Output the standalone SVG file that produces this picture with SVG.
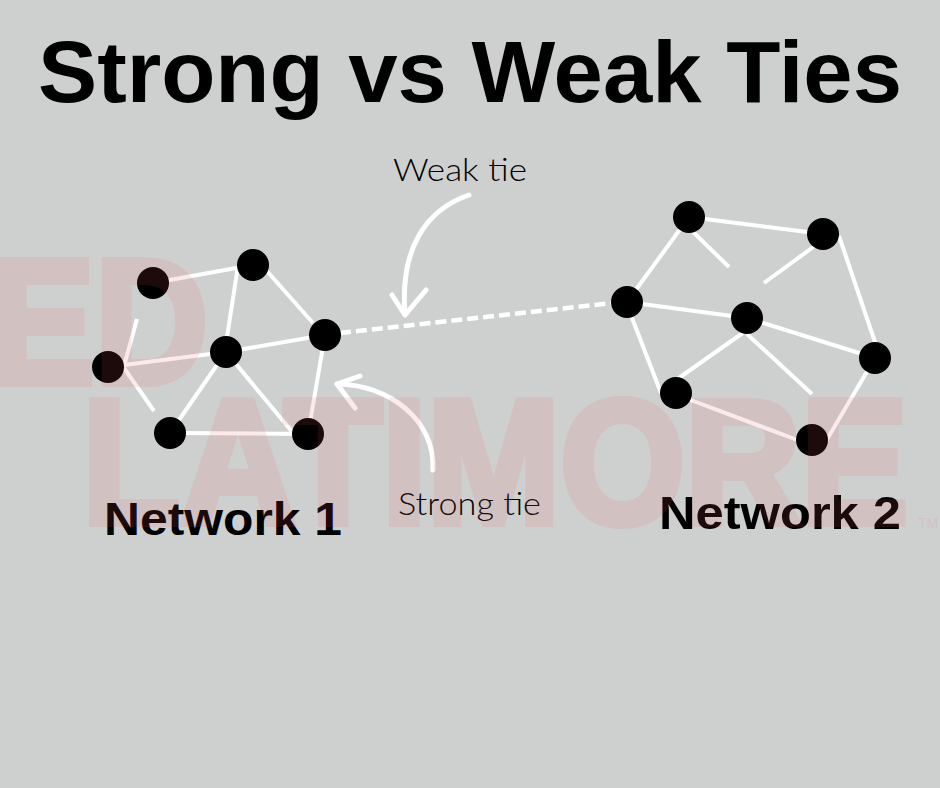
<svg xmlns="http://www.w3.org/2000/svg" width="940" height="788" viewBox="0 0 940 788">
<style>
.bg{fill:#ced0cf}
.edge{stroke:#ffffff;stroke-width:4;stroke-linecap:butt;fill:none}
.weak{stroke:#ffffff;stroke-width:4.5;stroke-dasharray:11 5;fill:none}
.arrow{stroke:#ffffff;stroke-width:5;stroke-linecap:round;stroke-linejoin:round;fill:none}
.node{fill:#000000}
.title{font-family:"Liberation Sans",Arial,sans-serif;font-weight:bold;font-size:88px;fill:#000}
.net{font-family:"Liberation Sans",Arial,sans-serif;font-weight:bold;font-size:46px;fill:#000}
.lbl{font-family:Lato,"Liberation Sans",sans-serif;font-weight:300;font-size:32px;fill:#000}
.wm{font-family:"Liberation Sans",Arial,sans-serif;font-weight:bold;font-size:176px;fill:#e85c5c;stroke:#e85c5c;stroke-width:8;stroke-linejoin:miter}
.tm{font-family:"Liberation Sans",Arial,sans-serif;font-size:14px;fill:#e85c5c;fill-opacity:0.14}
</style>
<rect class="bg" x="0" y="0" width="940" height="788"/>
<text id="title" class="title" x="38" y="102" textLength="864" lengthAdjust="spacingAndGlyphs">Strong vs Weak Ties</text>
<g id="connectors">
  <line class="edge" x1="153" y1="283" x2="253" y2="265"/>
  <line class="edge" x1="238" y1="266" x2="225" y2="350"/>
  <line class="edge" x1="266" y1="270" x2="313" y2="323"/>
  <line class="edge" x1="226" y1="352" x2="325" y2="335"/>
  <line class="edge" x1="108" y1="367" x2="226" y2="352"/>
  <line class="edge" x1="124" y1="366" x2="137" y2="319"/>
  <line class="edge" x1="124" y1="368" x2="154" y2="411"/>
  <line class="edge" x1="226" y1="352" x2="170" y2="433"/>
  <line class="edge" x1="226" y1="352" x2="294" y2="434"/>
  <line class="edge" x1="170" y1="433" x2="308" y2="434"/>
  <line class="edge" x1="325" y1="335" x2="308" y2="434"/>
  <line class="weak" x1="340" y1="333" x2="612" y2="303"/>
  <line class="edge" x1="689" y1="217" x2="823" y2="234"/>
  <line class="edge" x1="690" y1="229" x2="729" y2="267"/>
  <line class="edge" x1="816" y1="245" x2="764" y2="283"/>
  <line class="edge" x1="689" y1="217" x2="627" y2="302"/>
  <line class="edge" x1="627" y1="302" x2="747" y2="318"/>
  <line class="edge" x1="839" y1="236" x2="876" y2="345"/>
  <line class="edge" x1="747" y1="318" x2="875" y2="358"/>
  <line class="edge" x1="627" y1="305" x2="661" y2="393"/>
  <line class="edge" x1="747" y1="330" x2="676" y2="380"/>
  <line class="edge" x1="747" y1="334" x2="812" y2="394"/>
  <line class="edge" x1="680" y1="396" x2="800" y2="441"/>
  <line class="edge" x1="875" y1="358" x2="826" y2="441"/>
</g>
<g id="network1">
  <circle id="n1a" class="node" cx="153" cy="283" r="16"/>
  <circle id="n1b" class="node" cx="253" cy="265" r="16"/>
  <circle id="n1c" class="node" cx="325" cy="335" r="16"/>
  <circle id="n1d" class="node" cx="226" cy="352" r="16"/>
  <circle id="n1e" class="node" cx="108" cy="367" r="16"/>
  <circle id="n1f" class="node" cx="170" cy="433" r="16"/>
  <circle id="n1g" class="node" cx="308" cy="434" r="16"/>
</g>
<g id="network2">
  <circle id="n2a" class="node" cx="689" cy="217" r="16"/>
  <circle id="n2b" class="node" cx="823" cy="234" r="16"/>
  <circle id="n2c" class="node" cx="627" cy="302" r="16"/>
  <circle id="n2d" class="node" cx="747" cy="318" r="16"/>
  <circle id="n2e" class="node" cx="875" cy="358" r="16"/>
  <circle id="n2f" class="node" cx="676" cy="393" r="16"/>
  <circle id="n2g" class="node" cx="812" cy="440" r="16"/>
</g>
<g id="weak-tie-label">
  <text class="lbl" x="393" y="181" textLength="134" lengthAdjust="spacingAndGlyphs">Weak tie</text>
  <path class="arrow" d="M469,195 C425,210 400,250 405,313"/>
  <path class="arrow" d="M392,295 L405,315 L426,290"/>
</g>
<g id="strong-tie-label">
  <text class="lbl" x="398" y="515" textLength="143" lengthAdjust="spacingAndGlyphs">Strong tie</text>
  <path class="arrow" d="M433,470 C435,420 390,385 337,384"/>
  <path class="arrow" d="M360,376 L337,384 L355,408"/>
</g>
<text id="label-network1" class="net" x="104" y="535" textLength="238" lengthAdjust="spacingAndGlyphs">Network 1</text>
<text id="label-network2" class="net" x="659" y="529" textLength="242" lengthAdjust="spacingAndGlyphs">Network 2</text>
<g id="watermark">
  <g opacity="0.12">
    <text class="wm" x="-10" y="383" textLength="218" lengthAdjust="spacingAndGlyphs">ED</text>
    <text class="wm" x="82" y="523" textLength="826" lengthAdjust="spacingAndGlyphs">LATIMORE</text>
  </g>
  <text class="tm" x="918" y="528">TM</text>
</g>
</svg>
